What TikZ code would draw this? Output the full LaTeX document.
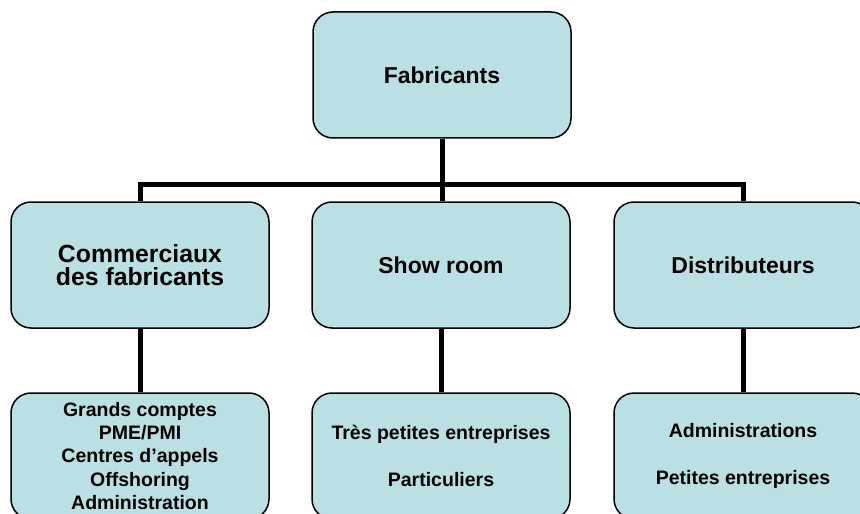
\documentclass[tikz,border=0pt]{standalone}
\usepackage{fontspec}
\setmainfont{Liberation Sans}
\usepackage{xcolor}
\definecolor{cBox}{HTML}{BBE0E3}
\tikzset{
  box/.style={draw=black, fill=cBox, rounded corners=10pt, align=center,
              minimum width=129pt, minimum height=63pt, inner sep=2pt, line width=0.75pt},
  headbox/.style={box, font=\fontsize{11.5}{11}\selectfont\bfseries},
  listbox/.style={box, font=\fontsize{9.75}{11.7}\selectfont\bfseries},
  link/.style={draw=black, line width=2.5pt},
}

\begin{document}
\begin{tikzpicture}[x=0.5pt, y=-0.5pt]
\useasboundingbox (0,0) rectangle (860,513);

% Top
\node[headbox] (fab) at (442, 75) {Fabricants};

% Channels
\node[headbox, font=\fontsize{12.4}{11.2}\selectfont\bfseries] (com) at (140, 265) {Commerciaux\\des fabricants};
\node[headbox] (show) at (441, 265) {Show room};
\node[headbox] (dist) at (743, 265) {Distributeurs};

% Customers
\node[listbox] (comcl) at (140, 456) {Grands comptes\\PME/PMI\\Centres d'appels\\Offshoring\\Administration};
\node[listbox] (showcl) at (441, 456) {Très petites entreprises\\[12pt]Particuliers};
\node[listbox] (distcl) at (743, 456) {Administrations\\[12pt]Petites entreprises};

% Links
\coordinate (bus) at (442, 184.5);
\draw[link] (fab.south) -- (bus);
\draw[link] (com.north) |- (bus) -| (dist.north);
\draw[link] (bus) -- (show.north -| bus);
\draw[link] (com) -- (comcl);
\draw[link] (show) -- (showcl);
\draw[link] (dist) -- (distcl);

\end{tikzpicture}
\end{document}
